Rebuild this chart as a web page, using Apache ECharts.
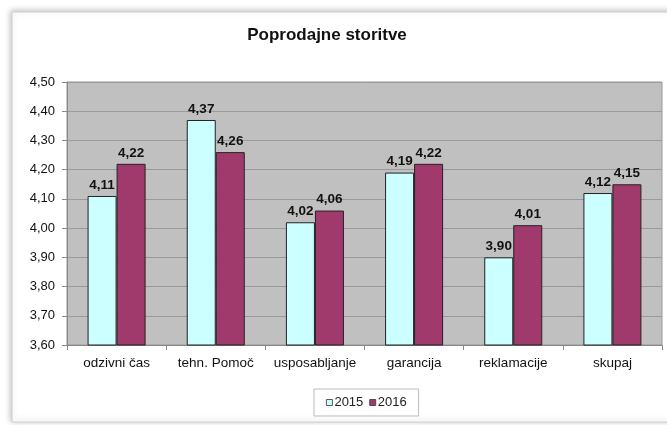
<!DOCTYPE html>
<html><head><meta charset="utf-8">
<script src="https://cdn.jsdelivr.net/npm/echarts@6/dist/echarts.min.js"></script>
<style>html,body{margin:0;padding:0;background:#fff}#c{width:667px;height:425px}</style>
</head><body><div id="c"></div>
<script>
var categories = ['odzivni čas','tehn. Pomoč','usposabljanje','garancija','reklamacije','skupaj'];
var values2015 = [4.11, 4.37, 4.02, 4.19, 3.90, 4.12];
var values2016 = [4.22, 4.26, 4.06, 4.22, 4.01, 4.15];
var seriesNames = ['2015','2016'];
var FONT = '"Liberation Sans", Arial, sans-serif';
function fmt(v){ return v.toFixed(2).replace('.', ','); }
var chart = echarts.init(document.getElementById('c'), null, {renderer:'canvas'});
var labelOpt = {show:true, position:'top', distance:4, fontFamily:FONT, fontSize:13.5, fontWeight:'bold', color:'#111',
  formatter:function(p){return fmt(p.value);}};
chart.setOption({
  animation:false,
  backgroundColor:'#fff',
  graphic:[
    {type:'rect', z:-10, shape:{x:12,y:12,width:700,height:410},
     style:{fill:'#fff', stroke:'#d0d0d0', lineWidth:1, shadowBlur:6, shadowColor:'rgba(0,0,0,0.25)', shadowOffsetX:-1, shadowOffsetY:-1}}
  ],
  title:{text:'Poprodajne storitve', left:322, top:22, textAlign:'center',
    textStyle:{fontFamily:FONT, fontSize:17, fontWeight:'bold', color:'#111'}},
  legend:{top:389, left:314, itemWidth:6, itemHeight:6, itemGap:6,
    borderColor:'#bbb', borderWidth:1, padding:[7,12,7,12], icon:'rect',
    itemStyle:{borderColor:'#333', borderWidth:0.8},
    textStyle:{fontFamily:FONT, fontSize:13, color:'#222', padding:[0,0,0,-3]},
    data:seriesNames},
  grid:{left:67, right:5, top:82, bottom:80, show:true, backgroundColor:'#c0c0c0', borderColor:'#999', borderWidth:1},
  xAxis:{type:'category', data:categories,
    axisLine:{show:true, lineStyle:{color:'#888'}},
    axisTick:{show:true, length:5, lineStyle:{color:'#888'}},
    axisLabel:{interval:0, hideOverlap:false, fontFamily:FONT, fontSize:13.5, color:'#111', margin:11}},
  yAxis:{type:'value', min:3.6, max:4.5, interval:0.1,
    axisLine:{show:true, lineStyle:{color:'#888'}},
    axisTick:{show:true, length:5, lineStyle:{color:'#888'}},
    splitLine:{show:true, lineStyle:{color:'#9a9a9a', width:1}},
    axisLabel:{fontFamily:FONT, fontSize:13, color:'#111', margin:12, formatter:function(v){return fmt(v);}}},
  series:[
    {name:seriesNames[0], type:'bar', data:values2015, barWidth:29, barGap:'0%',
     itemStyle:{color:'#ccffff', borderColor:'#222', borderWidth:1}, label:labelOpt},
    {name:seriesNames[1], type:'bar', data:values2016, barWidth:29, barGap:'0%',
     itemStyle:{color:'#a13a6c', borderColor:'#222', borderWidth:1}, label:labelOpt}
  ]
});
</script></body></html>
